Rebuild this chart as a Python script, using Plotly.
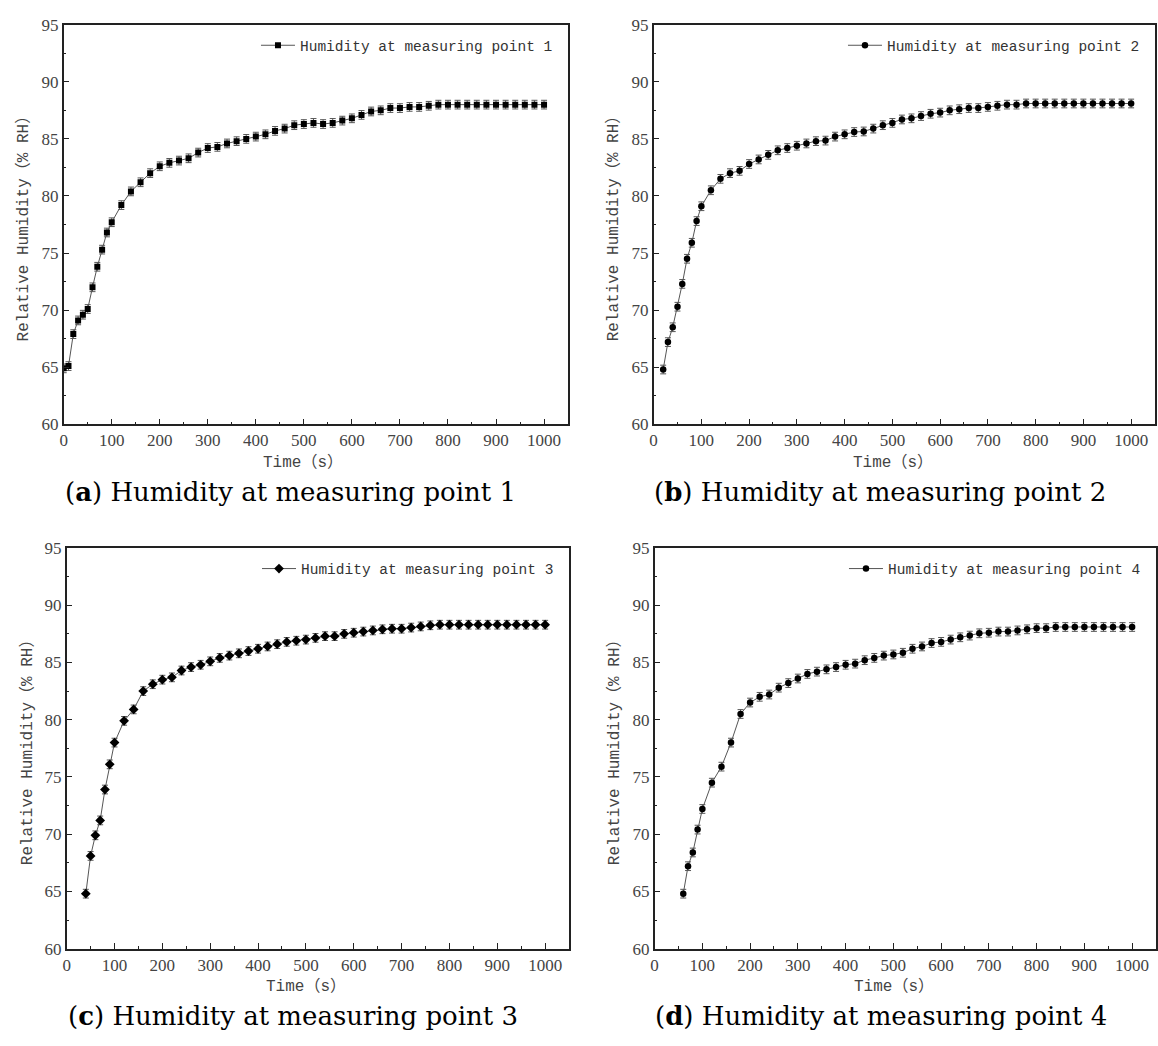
import plotly.graph_objects as go

# ---------------- data ----------------
t_a = [0, 10, 20, 30, 40, 50, 60, 70, 80, 90, 100, 120, 140, 160, 180, 200, 220, 240, 260, 280,
       300, 320, 340, 360, 380, 400, 420, 440, 460, 480, 500, 520, 540, 560, 580, 600, 620, 640,
       660, 680, 700, 720, 740, 760, 780, 800, 820, 840, 860, 880, 900, 920, 940, 960, 980, 1000]
rh_a = [64.9, 65.1, 67.9, 69.1, 69.6, 70.1, 72.0, 73.8, 75.3, 76.8, 77.7, 79.2, 80.4, 81.2, 82.0,
        82.6, 82.9, 83.1, 83.3, 83.8, 84.2, 84.3, 84.6, 84.8, 85.0, 85.2, 85.4, 85.7, 85.9, 86.2,
        86.3, 86.4, 86.3, 86.4, 86.6, 86.8, 87.1, 87.4, 87.5, 87.7, 87.7, 87.8, 87.8, 87.9, 88.0,
        88.0, 88.0, 88.0, 88.0, 88.0, 88.0, 88.0, 88.0, 88.0, 88.0, 88.0]

t_b = [20, 30, 40, 50, 60, 70, 80, 90, 100, 120, 140, 160, 180, 200, 220, 240, 260, 280, 300,
       320, 340, 360, 380, 400, 420, 440, 460, 480, 500, 520, 540, 560, 580, 600, 620, 640, 660,
       680, 700, 720, 740, 760, 780, 800, 820, 840, 860, 880, 900, 920, 940, 960, 980, 1000]
rh_b = [64.8, 67.2, 68.5, 70.3, 72.3, 74.5, 75.9, 77.8, 79.1, 80.5, 81.5, 82.0, 82.2, 82.8, 83.2,
        83.6, 84.0, 84.2, 84.4, 84.6, 84.8, 84.85, 85.2, 85.4, 85.6, 85.65, 85.9, 86.2, 86.4, 86.7,
        86.8, 87.0, 87.2, 87.3, 87.5, 87.6, 87.7, 87.7, 87.8, 87.9, 88.0, 88.0, 88.1, 88.1, 88.1,
        88.1, 88.1, 88.1, 88.1, 88.1, 88.1, 88.1, 88.1, 88.1]

t_c = [40, 50, 60, 70, 80, 90, 100, 120, 140, 160, 180, 200, 220, 240, 260, 280, 300, 320, 340,
       360, 380, 400, 420, 440, 460, 480, 500, 520, 540, 560, 580, 600, 620, 640, 660, 680, 700,
       720, 740, 760, 780, 800, 820, 840, 860, 880, 900, 920, 940, 960, 980, 1000]
rh_c = [64.8, 68.1, 69.9, 71.2, 73.9, 76.1, 78.0, 79.9, 80.9, 82.5, 83.1, 83.5, 83.7, 84.3, 84.6,
        84.8, 85.1, 85.4, 85.6, 85.8, 86.0, 86.2, 86.4, 86.6, 86.8, 86.9, 87.0, 87.15, 87.3, 87.3,
        87.5, 87.6, 87.7, 87.8, 87.9, 87.95, 87.95, 88.05, 88.15, 88.25, 88.3, 88.3, 88.3, 88.3,
        88.3, 88.3, 88.3, 88.3, 88.3, 88.3, 88.3, 88.3]

t_d = [60, 70, 80, 90, 100, 120, 140, 160, 180, 200, 220, 240, 260, 280, 300, 320, 340, 360, 380,
       400, 420, 440, 460, 480, 500, 520, 540, 560, 580, 600, 620, 640, 660, 680, 700, 720, 740,
       760, 780, 800, 820, 840, 860, 880, 900, 920, 940, 960, 980, 1000]
rh_d = [64.8, 67.2, 68.4, 70.4, 72.2, 74.5, 75.9, 78.0, 80.5, 81.5, 82.0, 82.2, 82.8, 83.2, 83.6,
        84.0, 84.2, 84.4, 84.6, 84.8, 84.9, 85.2, 85.4, 85.6, 85.7, 85.85, 86.2, 86.4, 86.7, 86.8,
        87.0, 87.2, 87.35, 87.55, 87.6, 87.7, 87.7, 87.8, 87.9, 88.0, 88.0, 88.1, 88.1, 88.1, 88.1,
        88.1, 88.1, 88.1, 88.1, 88.1]

series_names = ["Humidity at measuring point 1", "Humidity at measuring point 2",
                "Humidity at measuring point 3", "Humidity at measuring point 4"]
captions_letter = ["a", "b", "c", "d"]
x_ticks = [0, 100, 200, 300, 400, 500, 600, 700, 800, 900, 1000]
y_ticks = [60, 65, 70, 75, 80, 85, 90, 95]

# ---------------- layout ----------------
W, H = 1158, 1046
ERR = 0.38
MONO = "Liberation Mono, Noto Sans CJK SC, monospace"
SERIF = "Liberation Serif, serif"
CAPFONT = "DejaVu Serif, serif"

panels = [
    dict(t=t_a, rh=rh_a, sym="square", size=6, px=(60, 567), py=(16, 423)),
    dict(t=t_b, rh=rh_b, sym="circle", size=6.5, px=(653, 1157), py=(16, 423)),
    dict(t=t_c, rh=rh_c, sym="diamond", size=7.5, px=(63, 568), py=(549, 957)),
    dict(t=t_d, rh=rh_d, sym="circle", size=6.5, px=(654, 1158), py=(549, 957)),
]

fig = go.Figure()
annotations = []

for i, p in enumerate(panels):
    k = "" if i == 0 else str(i + 1)
    xa, ya = "x" + k, "y" + k
    lg = "legend" + k
    x0, x1 = p["px"]
    y0, y1 = p["py"]
    fig.add_trace(go.Scatter(
        x=p["t"], y=p["rh"], mode="lines+markers", name=series_names[i],
        xaxis=xa, yaxis=ya, legend=lg,
        line=dict(color="#555555", width=1),
        marker=dict(symbol=p["sym"], size=p["size"], color="black"),
        error_y=dict(type="constant", value=ERR, color="#555555", thickness=1, width=3),
    ))
    axis_common = dict(
        showline=True, linecolor="#222222", linewidth=1.5, mirror=True,
        ticks="inside", ticklen=6, tickwidth=1.2, tickcolor="#222222",
        showgrid=False, zeroline=False,
        tickfont=dict(family=SERIF, size=17, color="#444444"),
    )
    fig.update_layout(**{
        "xaxis" + k: dict(domain=[x0 / W, min(x1 / W, 1.0)], anchor=ya, range=[0, 1050],
                          tickvals=x_ticks,
                          minor=dict(ticks="inside", dtick=50, tick0=0, ticklen=3,
                                     tickcolor="#222222"),
                          **axis_common),
        "yaxis" + k: dict(domain=[1 - y1 / H, 1 - y0 / H], anchor=xa, range=[60, 95],
                          tickvals=y_ticks,
                          minor=dict(ticks="inside", dtick=2.5, tick0=60, ticklen=3,
                                     tickcolor="#222222"),
                          **axis_common),
        lg: dict(x=(x0 + (x1 - x0) * 0.98) / W, xanchor="right",
                 y=1 - (y0 + 21) / H, yanchor="middle",
                 bgcolor="rgba(0,0,0,0)", borderwidth=0,
                 font=dict(family=MONO, size=14.5, color="#333333"),
                 itemwidth=34),
    })
    # x-axis title
    annotations.append(dict(text="Time（s）", xref="paper", yref="paper",
                            x=(x0 + 241) / W, y=1 - (y1 + 39) / H,
                            showarrow=False, xanchor="center", yanchor="middle",
                            font=dict(family=MONO, size=16, color="#444444")))
    # y-axis title
    annotations.append(dict(text="Relative Humidity（% RH）", xref="paper", yref="paper",
                            x=(x0 - 40) / W, y=1 - (y0 + y1) / 2 / H, textangle=-90,
                            showarrow=False, xanchor="center", yanchor="middle",
                            font=dict(family=MONO, size=16, color="#444444")))
    # caption
    annotations.append(dict(text="(<b>" + captions_letter[i] + "</b>) " + series_names[i],
                            xref="paper", yref="paper",
                            x=(x0 + 228) / W, y=1 - (y1 + 69) / H,
                            showarrow=False, xanchor="center", yanchor="middle",
                            font=dict(family=CAPFONT, size=26, color="black")))

fig.update_layout(
    width=W, height=H, margin=dict(l=0, r=0, t=0, b=0),
    paper_bgcolor="white", plot_bgcolor="white",
    annotations=annotations, showlegend=True,
)

fig.write_html("out.html")
